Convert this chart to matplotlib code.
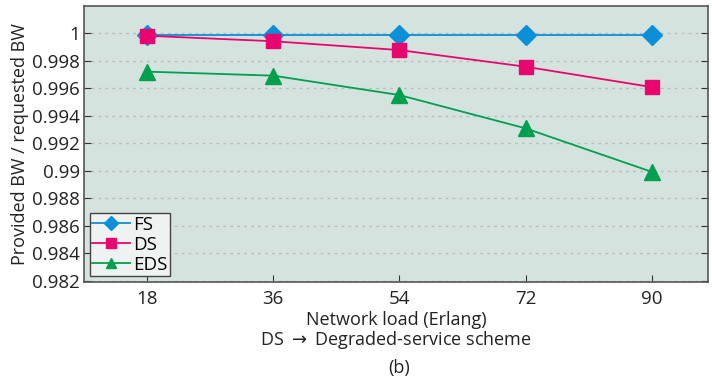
import matplotlib
matplotlib.use('Agg')
import matplotlib.pyplot as plt

plt.rcParams['font.family'] = ['Open Sans', 'DejaVu Sans']

# Network load (Erlang) and normalised bandwidth per scheme
loads = [18, 36, 54, 72, 90]
fs = [0.99985, 0.99985, 0.99985, 0.99985, 0.99985]
ds = [0.9998, 0.9994, 0.99876, 0.99755, 0.99607]
eds = [0.99719, 0.99690, 0.99549, 0.99307, 0.98991]
yticks = [0.982, 0.984, 0.986, 0.988, 0.99, 0.992, 0.994, 0.996, 0.998, 1]
ytick_labels = ['0.982', '0.984', '0.986', '0.988', '0.99', '0.992',
                '0.994', '0.996', '0.998', '1']

fig = plt.figure(figsize=(7.12, 3.77), dpi=100)
ax = fig.add_axes([0.118, 0.252, 0.876, 0.732])
ax.set_facecolor('#d5e3df')

ax.plot(loads, fs, color='#0b8fd8', marker='D', markersize=10, lw=1.3, label='FS', zorder=3)
ax.plot(loads, ds, color='#e8056f', marker='s', markersize=10, lw=1.3, label='DS', zorder=4)
ax.plot(loads, eds, color='#00a04e', marker='^', markersize=11, lw=1.3, label='EDS', zorder=4)

ax.set_xlim(9, 98)
ax.set_ylim(0.9819, 1.00196)
ax.set_xticks(loads)
ax.set_yticks(yticks)
ax.set_yticklabels(ytick_labels)
ax.yaxis.grid(True, linestyle=(0, (2, 3)), color='#b8bcbb', lw=1)
ax.set_axisbelow(True)
ax.tick_params(axis='both', direction='in', labelsize=13.5, colors='#333333',
               labelcolor='#222222', length=5)
ax.tick_params(axis='x', pad=6)
ax.tick_params(axis='y', right=True, pad=3)
for s in ax.spines.values():
    s.set_color('#555555')
    s.set_linewidth(1.2)

ax.set_ylabel('Provided BW / requested BW', fontsize=13, color='#222222', labelpad=2)
ax.set_xlabel('Network load (Erlang)\nDS $\\rightarrow$ Degraded-service scheme',
              fontsize=13, color='#222222', labelpad=2, linespacing=1.0)
fig.text(0.56, 0.025, '(b)', ha='center', va='center', fontsize=13, color='#222222')

leg = ax.legend(loc='lower left', fontsize=13.5, fancybox=False, borderpad=0.15,
                handlelength=2.0, handletextpad=0.15, labelspacing=0.1,
                borderaxespad=0.3, framealpha=1)
leg.get_frame().set_edgecolor('#444444')
leg.get_frame().set_facecolor('#eef3f2')
for h in leg.legend_handles:
    h.set_markersize(7)

fig.savefig('out.png', dpi=100)
